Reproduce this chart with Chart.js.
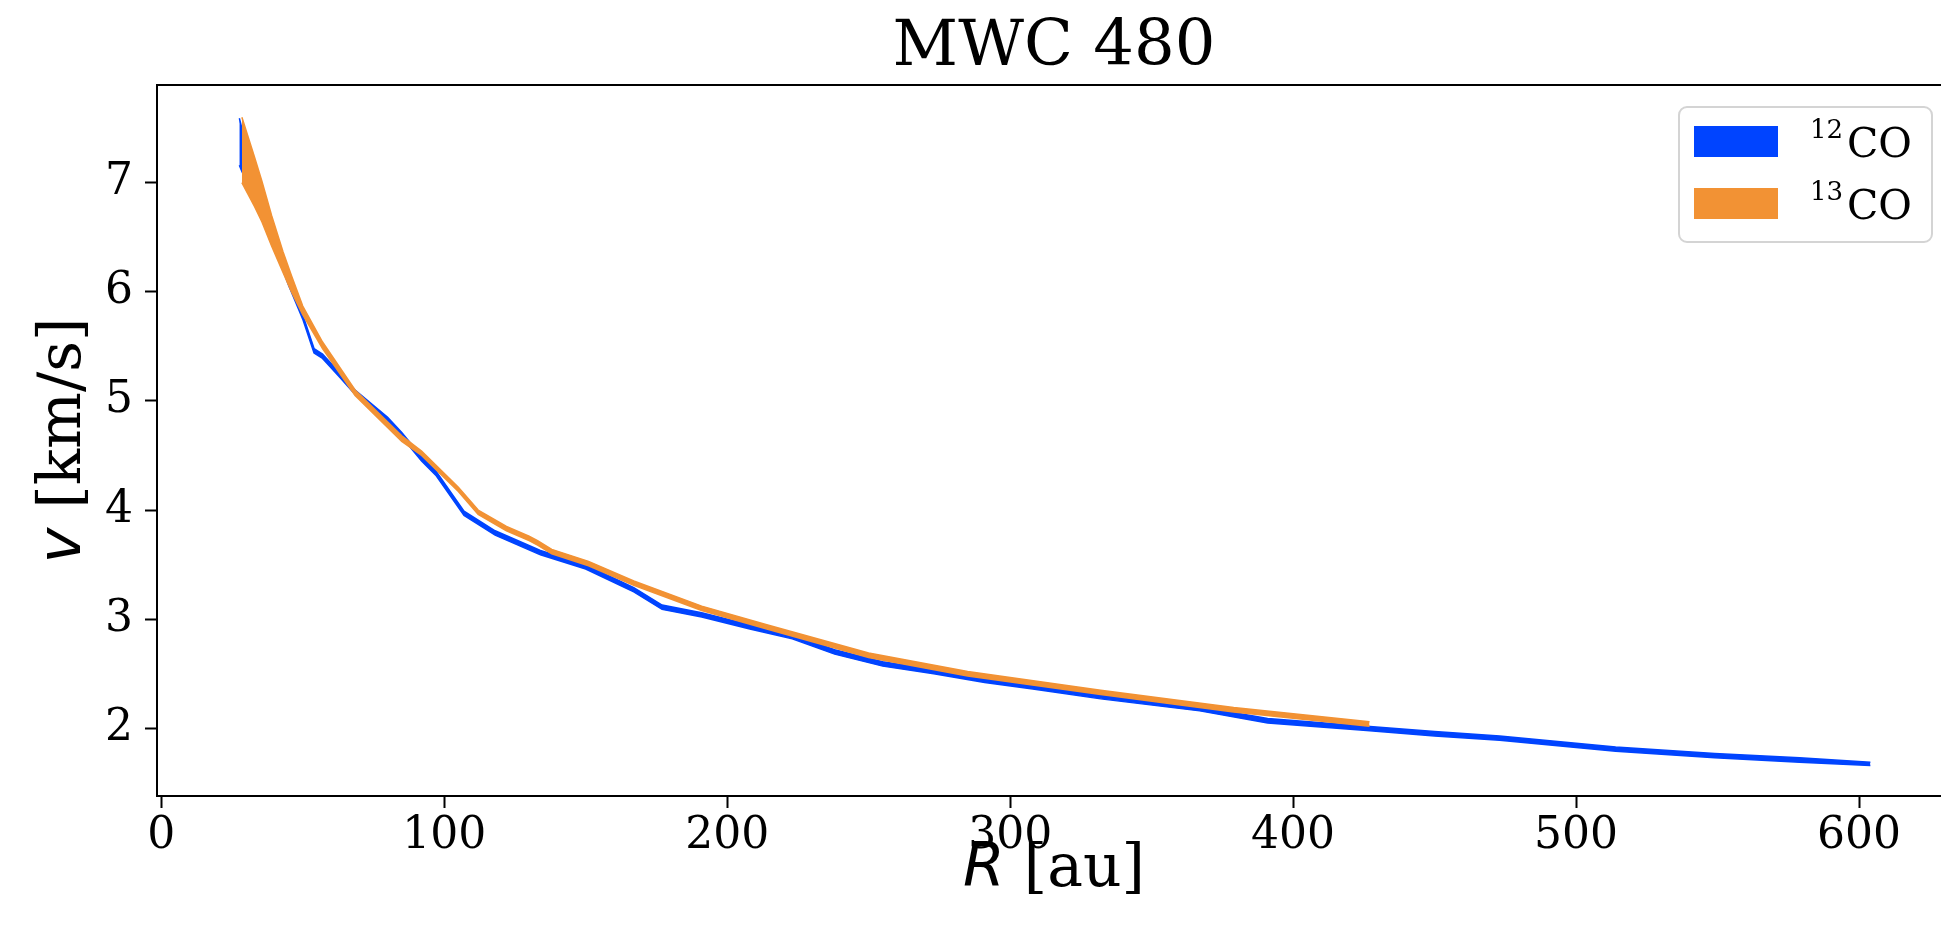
<!DOCTYPE html>
<html>
<head>
<meta charset="utf-8">
<script src="https://cdn.jsdelivr.net/npm/chart.js@4.4.0/dist/chart.umd.min.js"></script>
<style>
html, body { margin: 0; padding: 0; overflow: hidden; background: #fff; }
</style>
</head>
<body>
<canvas id="chart" width="1960" height="932"></canvas>
<script>
const chartTitle = 'MWC 480';
const xTicks = [0, 100, 200, 300, 400, 500, 600];
const yTicks = [2, 3, 4, 5, 6, 7];
const legendNames = [['12', 'CO'], ['13', 'CO']];

// 12CO band (radius in au, velocity range in km/s)
const r12 = [27.6, 28.2, 33, 40, 45, 50, 54, 57, 63, 68.5, 80, 85, 92, 97, 107, 118, 134, 150, 167, 177, 191, 208, 223, 238, 255, 273, 291, 308, 332, 367, 391, 426, 450, 473, 514, 549, 579, 604];
const v12hi = [7.59, 7.53, 6.88, 6.45, 6.10, 5.79, 5.48, 5.43, 5.26, 5.10, 4.85, 4.71, 4.49, 4.36, 3.99, 3.81, 3.63, 3.50, 3.29, 3.13, 3.06, 2.95, 2.86, 2.72, 2.61, 2.54, 2.46, 2.40, 2.31, 2.20, 2.09, 2.02, 1.97, 1.93, 1.83, 1.77, 1.73, 1.69];
const v12lo = [7.16, 7.12, 6.84, 6.41, 6.06, 5.75, 5.44, 5.39, 5.22, 5.06, 4.81, 4.67, 4.45, 4.32, 3.95, 3.77, 3.59, 3.46, 3.25, 3.09, 3.02, 2.91, 2.82, 2.68, 2.57, 2.50, 2.42, 2.36, 2.27, 2.16, 2.05, 1.98, 1.93, 1.89, 1.79, 1.73, 1.69, 1.66];

// 13CO band
const r13 = [28.5, 33, 35.6, 39, 43, 46, 50, 57, 68.5, 85, 92, 105, 112, 122, 130, 133, 138, 151, 167, 191, 214, 250, 285, 332, 379, 427];
const v13hi = [7.60, 7.23, 7.01, 6.70, 6.37, 6.15, 5.87, 5.54, 5.10, 4.68, 4.54, 4.21, 4.00, 3.85, 3.76, 3.72, 3.64, 3.53, 3.35, 3.12, 2.95, 2.69, 2.52, 2.35, 2.19, 2.06];
const v13lo = [7.00, 6.78, 6.64, 6.42, 6.18, 6.00, 5.79, 5.48, 5.05, 4.63, 4.50, 4.17, 3.96, 3.81, 3.72, 3.68, 3.60, 3.49, 3.31, 3.08, 2.91, 2.65, 2.48, 2.31, 2.15, 2.02];

const BLUE = 'rgb(0,68,255)';
const ORANGE = 'rgb(242,146,52)';
const serif = "'DejaVu Serif', serif";
const sans = "'DejaVu Sans', sans-serif";

function pts(r, v) {
    return r.map((x, i) => ({ x: x, y: v[i] }));
}

// draws the parts of a label one after another, each in its own font
function drawParts(ctx, parts, cx, y) {
    let w = 0;
    parts.forEach(p => { ctx.font = p[1]; w += ctx.measureText(p[0]).width; });
    let x = cx - w / 2;
    parts.forEach(p => {
        ctx.font = p[1];
        ctx.fillText(p[0], x, y);
        x += ctx.measureText(p[0]).width;
    });
}

const extras = {
    id: 'extras',
    afterDraw(chart) {
        const ctx = chart.ctx;
        const a = chart.chartArea;
        ctx.save();

        // top + right spines
        ctx.strokeStyle = '#000';
        ctx.lineWidth = 2;
        ctx.beginPath();
        ctx.moveTo(a.left, a.top);
        ctx.lineTo(a.right, a.top);
        ctx.lineTo(a.right, a.bottom);
        ctx.stroke();

        // legend
        ctx.fillStyle = 'rgba(255,255,255,0.8)';
        ctx.strokeStyle = '#d4d4d4';
        ctx.lineWidth = 2;
        ctx.beginPath();
        ctx.roundRect(1679, 107, 253, 135, 8);
        ctx.fill();
        ctx.stroke();
        [BLUE, ORANGE].forEach((c, i) => {
            const dy = i * 62;
            ctx.fillStyle = c;
            ctx.fillRect(1694, 126 + dy, 84, 31);
            ctx.fillStyle = '#000';
            ctx.textAlign = 'left';
            ctx.textBaseline = 'alphabetic';
            ctx.font = '26px ' + serif;
            ctx.fillText(legendNames[i][0], 1810, 138 + dy);
            ctx.font = '41px ' + serif;
            ctx.fillText(legendNames[i][1], 1847, 157 + dy);
        });

        // axis labels
        ctx.fillStyle = '#000';
        ctx.textAlign = 'left';
        ctx.textBaseline = 'alphabetic';
        drawParts(ctx, [['R', 'italic 60px ' + sans], [' [au]', '60px ' + serif]], (a.left + a.right) / 2, 886);
        ctx.translate(80, (a.top + a.bottom) / 2);
        ctx.rotate(-Math.PI / 2);
        drawParts(ctx, [['v', 'italic 60px ' + sans], [' [km/s]', '60px ' + serif]], 0, 0);

        ctx.restore();
    }
};

const axisStyle = {
    grid: { drawOnChartArea: false, drawTicks: true, tickLength: 12, tickWidth: 2, tickColor: '#000' },
    border: { display: true, color: '#000', width: 2 }
};

const ctx = document.getElementById('chart').getContext('2d');
new Chart(ctx, {
    type: 'line',
    data: {
        datasets: [
            { label: '12CO upper', data: pts(r12, v12hi), borderColor: BLUE, borderWidth: 1.5, fill: false, order: 2 },
            { label: '12CO lower', data: pts(r12, v12lo), borderColor: BLUE, borderWidth: 1.5, backgroundColor: BLUE, fill: '-1', order: 2 },
            { label: '13CO upper', data: pts(r13, v13hi), borderColor: ORANGE, borderWidth: 1.5, fill: false, order: 1 },
            { label: '13CO lower', data: pts(r13, v13lo), borderColor: ORANGE, borderWidth: 1.5, backgroundColor: ORANGE, fill: '-1', order: 1 }
        ]
    },
    options: {
        responsive: false,
        animation: false,
        devicePixelRatio: 1,
        layout: { padding: { right: 9 } },
        elements: { point: { radius: 0 }, line: { tension: 0 } },
        plugins: {
            legend: { display: false },
            tooltip: { enabled: false },
            title: {
                display: true,
                text: chartTitle,
                fullSize: false,
                color: '#000',
                font: { family: serif, size: 64, weight: 'normal', lineHeight: 1 },
                padding: { top: 16.5, bottom: 4.5 }
            }
        },
        scales: {
            x: {
                type: 'linear',
                min: -1.5,
                max: 632.5,
                afterBuildTicks: s => { s.ticks = xTicks.map(v => ({ value: v })); },
                afterFit: s => { s.height = 136; },
                ...axisStyle,
                ticks: { color: '#000', font: { family: serif, size: 44 }, padding: 2, maxRotation: 0, autoSkip: false }
            },
            y: {
                type: 'linear',
                min: 1.38,
                max: 7.895,
                afterBuildTicks: s => { s.ticks = yTicks.map(v => ({ value: v })); },
                afterFit: s => { s.width = 157; },
                ...axisStyle,
                ticks: { color: '#000', font: { family: serif, size: 44 }, padding: 12, autoSkip: false }
            }
        }
    },
    plugins: [extras]
});
</script>
</body>
</html>
